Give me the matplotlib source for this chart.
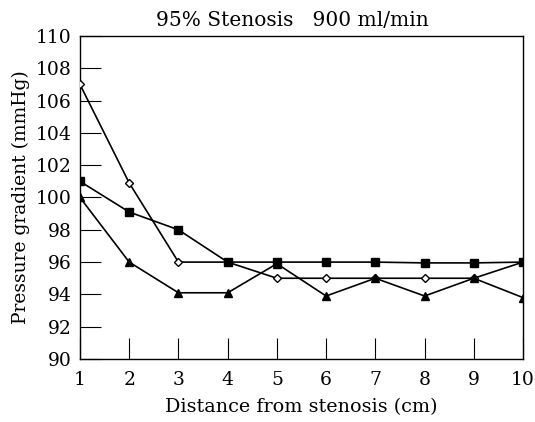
import matplotlib
matplotlib.use("Agg")
import matplotlib.pyplot as plt

# Distance from stenosis (cm)
distance = [1, 2, 3, 4, 5, 6, 7, 8, 9, 10]

# Pressure gradient (mmHg) for the three series
open_diamond = [107, 100.9, 96, 96, 95, 95, 95, 95, 95, 96]
filled_square = [101, 99.1, 98, 96, 96, 96, 96, 95.95, 95.95, 96]
filled_triangle = [100, 96, 94.1, 94.1, 95.9, 93.9, 95, 93.9, 95, 93.8]

x_ticks = list(range(1, 11))
y_ticks = list(range(90, 111, 2))

plt.rcParams["font.family"] = ["DejaVu Serif"]

fig = plt.figure(figsize=(5.35, 4.22), dpi=100)
ax = fig.add_axes([0.1495, 0.1493, 0.8281, 0.7654])

ax.plot(distance, open_diamond, color="black", linewidth=1.2, marker="D",
        markersize=4.4, markerfacecolor="white", markeredgecolor="black",
        markeredgewidth=1.0, zorder=3)
ax.plot(distance, filled_square, color="black", linewidth=1.2, marker="s",
        markersize=5.6, markerfacecolor="black", zorder=4)
ax.plot(distance, filled_triangle, color="black", linewidth=1.2, marker="^",
        markersize=6.2, markerfacecolor="black", zorder=4)

ax.set_xlim(1, 10)
ax.set_ylim(90, 110)
ax.set_xticks(x_ticks)
ax.set_yticks(y_ticks)
ax.tick_params(direction="in", length=15, width=0.8, labelsize=13.5,
               top=False, right=False)
ax.tick_params(axis="x", pad=9)
ax.tick_params(axis="y", pad=6)
for spine in ax.spines.values():
    spine.set_linewidth(1.0)

ax.set_xlabel("Distance from stenosis (cm)", fontsize=13.8, labelpad=6)
ax.set_ylabel("Pressure gradient (mmHg)", fontsize=13.5, labelpad=4)
ax.set_title("95% Stenosis   900 ml/min", fontsize=14.5, pad=7, x=0.48)

fig.savefig("out.png", dpi=100)
